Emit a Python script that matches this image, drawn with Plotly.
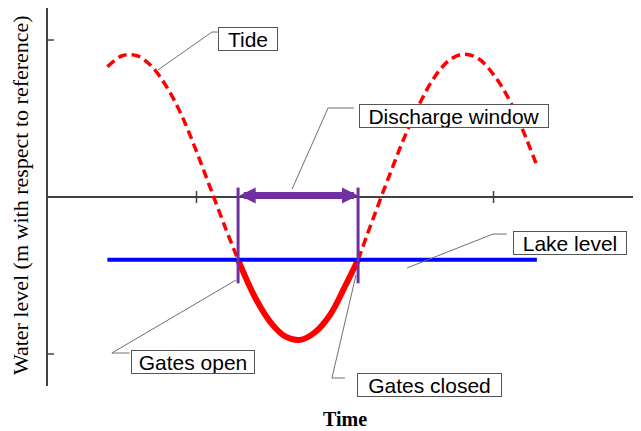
import plotly.graph_objects as go

# ---- data ----
tide_time = [0.70, 0.75, 0.80, 0.85, 0.90, 0.95, 1.00, 1.05, 1.10, 1.14,
             1.20, 1.25, 1.30, 1.35, 1.40, 1.45, 1.50, 1.544,
             1.60, 1.65, 1.70, 1.75, 1.80, 1.85, 1.90, 1.95, 2.00, 2.05, 2.10, 2.146]
tide_level = [0.83, 0.90, 0.90, 0.83, 0.70, 0.52, 0.29, 0.04, -0.21, -0.40,
              -0.65, -0.80, -0.89, -0.91, -0.86, -0.75, -0.57, -0.40,
              -0.11, 0.14, 0.38, 0.59, 0.76, 0.87, 0.91, 0.88, 0.78, 0.63, 0.42, 0.20]
lake_time = [0.70, 2.146]
lake_level = [-0.40, -0.40]
gate_open = 1.14
gate_closed = 1.544
x_ticks = [1, 2]
y_ticks = [-1, 1]

label_tide = "Tide"
label_window = "Discharge window"
label_lake = "Lake level"
label_open = "Gates open"
label_closed = "Gates closed"
y_title = "Water level (m with respect to reference)"
x_title = "Time"

RED = "#FF0000"
BLUE = "#0000FF"
PURPLE = "#7030A0"
AXIS = "#404040"
LEADER = "#707070"

fig = go.Figure()

def seg(lo, hi):
    xs, ys = [], []
    for t, v in zip(tide_time, tide_level):
        if lo - 1e-9 <= t <= hi + 1e-9:
            xs.append(t)
            ys.append(v)
    return xs, ys

bx, by = seg(-10, gate_open)
dx, dy = seg(gate_open, gate_closed)
ax_, ay_ = seg(gate_closed, 10)

for xs, ys in [(bx, by), (ax_, ay_)]:
    fig.add_trace(go.Scatter(x=xs, y=ys, mode="lines", line_shape="spline",
                             line=dict(color=RED, width=3.5, dash="9px,5px"),
                             showlegend=False, hoverinfo="skip"))
fig.add_trace(go.Scatter(x=dx, y=dy, mode="lines", line_shape="spline",
                         line=dict(color=RED, width=6),
                         showlegend=False, hoverinfo="skip"))
fig.add_trace(go.Scatter(x=lake_time, y=lake_level, mode="lines",
                         line=dict(color=BLUE, width=4),
                         showlegend=False, hoverinfo="skip"))
# gate markers (purple verticals)
for g in [gate_open, gate_closed]:
    fig.add_trace(go.Scatter(x=[g, g], y=[0.06, -0.55], mode="lines",
                             line=dict(color=PURPLE, width=3),
                             showlegend=False, hoverinfo="skip"))

# leader lines
leaders = [
    ([1.072, 1.052, 0.870], [1.051, 1.051, 0.809]),
    ([1.530, 1.443, 1.322], [0.567, 0.567, 0.051]),
    ([2.045, 1.998, 1.709], [-0.236, -0.236, -0.452]),
    ([0.775, 0.715, 1.133], [-0.994, -0.994, -0.529]),
    ([1.500, 1.456, 1.537], [-1.153, -1.153, -0.497]),
]
for lx, ly in leaders:
    fig.add_trace(go.Scatter(x=lx, y=ly, mode="lines",
                             line=dict(color=LEADER, width=1),
                             showlegend=False, hoverinfo="skip"))

# ticks crossing the axes
for xv in x_ticks:
    fig.add_shape(type="line", xref="x", yref="y", x0=xv, x1=xv,
                  ysizemode="pixel", yanchor=0, y0=-6, y1=6,
                  line=dict(color=AXIS, width=1.5))
for yv in y_ticks:
    fig.add_shape(type="line", xref="x", yref="y", y0=yv, y1=yv,
                  xsizemode="pixel", xanchor=0.5, x0=-6, x1=6,
                  line=dict(color=AXIS, width=1.5))

# discharge window double arrow
fig.add_annotation(x=gate_closed, y=0.01, ax=gate_open, ay=0.01,
                   xref="x", yref="y", axref="x", ayref="y", text="",
                   showarrow=True, arrowside="end+start",
                   arrowhead=2, startarrowhead=2,
                   arrowsize=0.46, startarrowsize=0.46,
                   arrowwidth=7, arrowcolor=PURPLE)

lab_font = dict(family="Liberation Sans, Arial, sans-serif", size=21, color="black")
boxes = [
    (label_tide, 1.173, 1.006, 58, "middle"),
    (label_window, 1.867, 0.516, 188, "middle"),
    (label_lake, 2.258, -0.290, 112, "middle"),
    (label_open, 0.988, -1.048, 122, "middle"),
    (label_closed, 1.785, -1.121, 143, "top"),
]
for txt, x, y, w, ya in boxes:
    fig.add_annotation(x=x, y=y, xref="x", yref="y", text=txt, showarrow=False,
                       font=lab_font, bgcolor="white", bordercolor="#555555",
                       borderwidth=1, borderpad=0, width=w, height=22,
                       xanchor="center", yanchor=ya)

fig.add_annotation(x=-0.0472, y=0.505, xref="paper", yref="paper", text=y_title,
                   textangle=-90, showarrow=False,
                   font=dict(family="Liberation Serif, Times New Roman, serif", size=22, color="black"),
                   xanchor="center", yanchor="middle")
fig.add_annotation(x=0.5008, y=-0.0886, xref="paper", yref="paper",
                   text="<b>" + x_title + "</b>", showarrow=False,
                   font=dict(family="Liberation Serif, Times New Roman, serif", size=20, color="black"),
                   xanchor="center", yanchor="middle")

fig.update_layout(
    width=633, height=423,
    margin=dict(l=40, r=0, t=0, b=45, autoexpand=False),
    paper_bgcolor="white", plot_bgcolor="white",
    xaxis=dict(range=[0.5, 2.4966], showgrid=False, zeroline=False,
               showticklabels=False, showline=False, ticks=""),
    yaxis=dict(range=[-1.204, 1.204], showgrid=False, zeroline=True,
               zerolinecolor=AXIS, zerolinewidth=1.5,
               showline=True, linecolor=AXIS, linewidth=1.5,
               showticklabels=False, ticks=""),
)

fig.write_html("out.html")
